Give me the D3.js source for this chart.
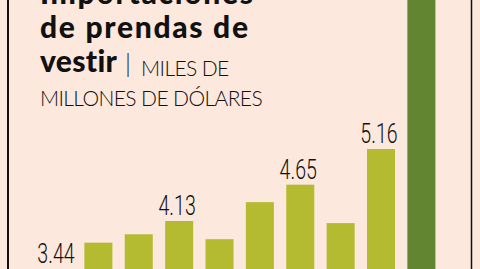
<!DOCTYPE html>
<html>
<head>
<meta charset="utf-8">
<script src="https://cdn.jsdelivr.net/npm/d3@7"></script>
<style>
  body { margin: 0; background: #fce8dc; }
  svg { display: block; }
  .title { font-family: Lato, "DejaVu Sans", sans-serif; font-weight: 900; fill: #111; }
  .sub { font-family: Lato, "DejaVu Sans", sans-serif; font-weight: 300; fill: #111; }
  .val { font-family: Roboto, sans-serif; font-weight: 300; fill: #111; }
</style>
</head>
<body>
<div id="chart"></div>
<script>
// years are not shown in the crop
const years = ['2013', '2014', '2015', '2016', '2017', '2018', '2019', '2020', '2021', '2022']
const values = [3.44, 3.82, 3.94, 4.13, 3.87, 4.40, 4.65, 4.10, 5.16, 7.9]
const labeled = ['2013', '2016', '2019', '2021']
const titleLines = ['Importaciones', 'de prendas de', 'vestir']
const unitLines = ['MILES DE', 'MILLONES DE DÓLARES']

const width = 480, height = 269

const svg = d3.select('#chart').append('svg')
    .attr('width', width)
    .attr('height', height)

svg.append('rect')
    .attr('width', width)
    .attr('height', height)
    .attr('fill', '#fce8dc')

let x = d3.scaleBand()
    .domain(years)
    .range([44, 435.4])
    .paddingInner(0.306)
    .paddingOuter(0)

let y = d3.scaleLinear()
    .domain([0, 6])
    .range([509.7, 90.3])

svg.selectAll('.bar')
    .data(years)
    .enter().append('rect')
    .attr('class', 'bar')
    .attr('x', d => x(d))
    .attr('width', x.bandwidth())
    .attr('y', (d, i) => y(values[i]))
    .attr('height', (d, i) => y(0) - y(values[i]))
    .attr('fill', (d, i) => i === years.length - 1 ? '#618531' : '#b5bb30')

svg.selectAll('.val')
    .data(years.filter(d => labeled.includes(d)))
    .enter().append('text')
    .attr('class', 'val')
    .attr('text-anchor', 'middle')
    .attr('font-size', 28)
    .attr('transform', d => {
        let v = values[years.indexOf(d)]
        return 'translate(' + (x(d) + x.bandwidth() / 2 - 2) + ',' + (y(v) - 6) + ') scale(0.7,1)'
    })
    .text(d => values[years.indexOf(d)].toFixed(2))

// title block
const title = svg.append('g')
title.append('text').attr('class', 'title').attr('x', 40).attr('y', 4)
    .attr('font-size', 30).attr('letter-spacing', 1.7).text(titleLines[0])
title.append('text').attr('class', 'title').attr('x', 40).attr('y', 38)
    .attr('font-size', 30).attr('letter-spacing', 1.7).text(titleLines[1])

let line3 = title.append('text').attr('x', 40).attr('y', 72)
line3.append('tspan').attr('class', 'title').attr('font-size', 30).attr('letter-spacing', 0.3).text(titleLines[2])
line3.append('tspan').attr('class', 'sub').attr('font-size', 25).attr('dx', 8).text('|')
line3.append('tspan').attr('class', 'sub').attr('font-size', 21).attr('letter-spacing', -0.6)
    .attr('dx', 10).attr('dy', 4).text(unitLines[0])

title.append('text').attr('class', 'sub').attr('x', 40).attr('y', 106)
    .attr('font-size', 21).attr('letter-spacing', -0.6).text(unitLines[1])

// frame lines
svg.append('line').attr('x1', 8).attr('x2', 8).attr('y1', 0).attr('y2', height)
    .attr('stroke', '#111').attr('stroke-width', 2)
svg.append('line').attr('x1', 471.5).attr('x2', 471.5).attr('y1', 0).attr('y2', height)
    .attr('stroke', '#111').attr('stroke-width', 1.5)
</script>
</body>
</html>
